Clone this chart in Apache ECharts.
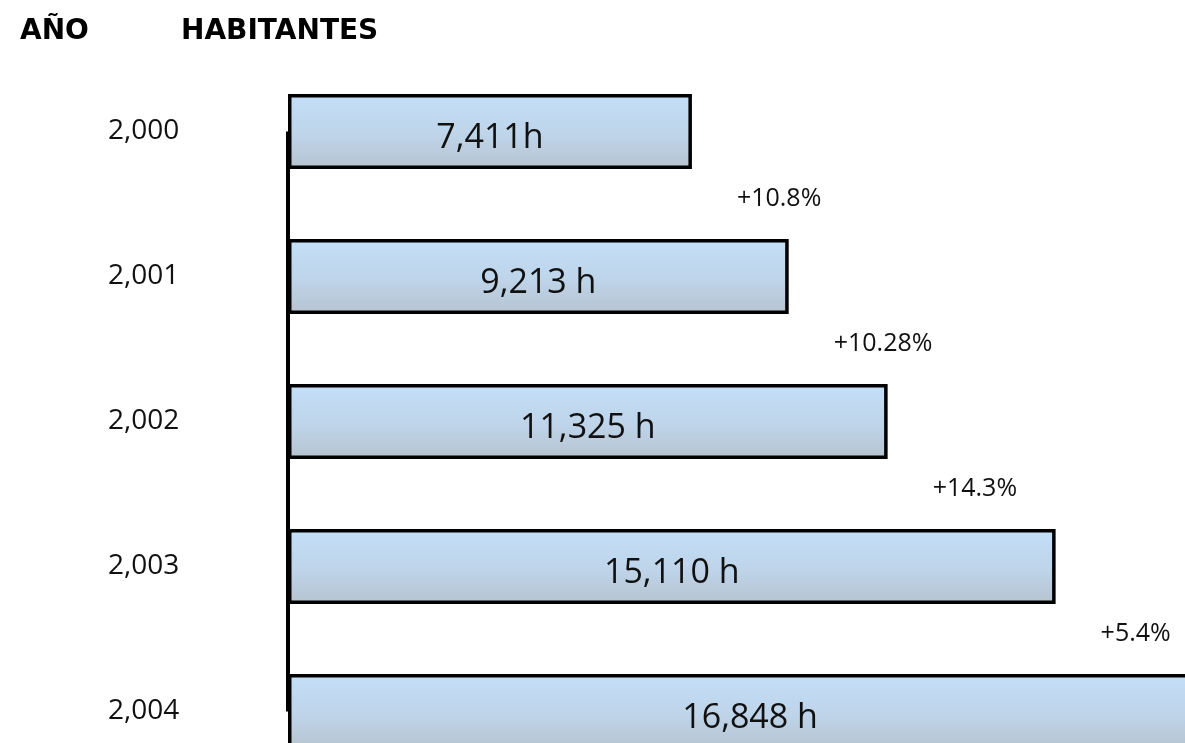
<!DOCTYPE html>
<html>
<head>
<meta charset="utf-8">
<script src="https://cdn.jsdelivr.net/npm/echarts@6/dist/echarts.min.js"></script>
<style>
  html, body { margin: 0; padding: 0; background: #ffffff; overflow: hidden; }
  #chart { width: 1185px; height: 790px; }
</style>
</head>
<body>
<div id="chart"></div>
<script>
// ---- data ----
const years = ['2,000', '2,001', '2,002', '2,003', '2,004'];
// bar lengths as drawn in the picture (habitantes scale)
const barLength = [7430, 9210, 11030, 14120, 17000];
// text printed inside each bar
const barText = ['7,411h', '9,213 h', '11,325 h', '15,110 h', '16,848 h'];
// growth printed between consecutive years
const growth = ['+10.8%', '+10.28%', '+14.3%', '+5.4%', ''];

const FONT = '"Open Sans", "DejaVu Sans", sans-serif';
const TITLE_FONT = '"DejaVu Sans", "Open Sans", sans-serif';

const chart = echarts.init(document.getElementById('chart'), null, { renderer: 'canvas' });

const barFill = new echarts.graphic.LinearGradient(0, 1, 0, 0, [
  { offset: 0, color: '#b7c3d0' },
  { offset: 0.45, color: '#bed4e9' },
  { offset: 1, color: '#c3dff8' }
]);

chart.setOption({
  animation: false,
  backgroundColor: '#ffffff',
  title: [
    { text: 'AÑO', left: 15, top: 13, textStyle: { fontFamily: TITLE_FONT, fontWeight: 'bold', fontSize: 28, color: '#000' } },
    { text: 'HABITANTES', left: 176, top: 13, textStyle: { fontFamily: TITLE_FONT, fontWeight: 'bold', fontSize: 28, color: '#000' } }
  ],
  grid: { left: 288, top: 59, width: 897, height: 725, containLabel: false },
  xAxis: {
    type: 'value', min: 0, max: 16500, show: false
  },
  yAxis: {
    type: 'category',
    inverse: true,
    data: years,
    axisLine: { show: false },
    axisTick: { show: false },
    splitLine: { show: false },
    axisLabel: {
      align: 'left',
      margin: 180,
      fontFamily: FONT,
      fontSize: 28,
      color: '#111',
      padding: [0, 0, 6, 0]
    }
  },
  series: [
    {
      name: 'growth',
      type: 'bar',
      data: barLength,
      barWidth: 75,
      barGap: '-100%',
      silent: true,
      z: 1,
      itemStyle: { color: 'rgba(0,0,0,0)' },
      label: {
        show: true,
        position: 'right',
        distance: 45,
        offset: [0, 67],
        fontFamily: FONT,
        fontSize: 25,
        color: '#111',
        formatter: p => growth[p.dataIndex]
      }
    },
    {
      name: 'habitantes',
      type: 'bar',
      data: barLength,
      barWidth: 75,
      clip: false,
      z: 3,
      itemStyle: { color: barFill, borderColor: '#000', borderWidth: 3.5 },
      label: {
        show: true,
        position: 'inside',
        offset: [0, 7],
        fontFamily: FONT,
        fontSize: 34,
        color: '#111',
        formatter: p => barText[p.dataIndex]
      },
      markLine: {
        silent: true,
        symbol: ['none', 'none'],
        label: { show: false },
        lineStyle: { color: '#000', width: 4, type: 'solid' },
        data: [[{ coord: [0, 0] }, { coord: [0, years.length - 1] }]]
      }
    }
  ]
});
</script>
</body>
</html>
